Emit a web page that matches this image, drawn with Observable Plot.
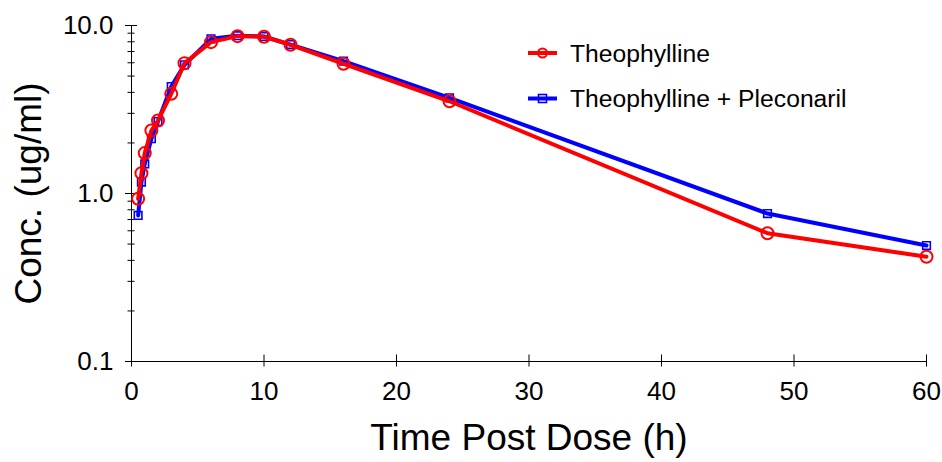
<!DOCTYPE html>
<html>
<head>
<meta charset="utf-8">
<script src="https://cdn.jsdelivr.net/npm/d3@7"></script>
<script src="https://cdn.jsdelivr.net/npm/@observablehq/plot@0.6"></script>
<style>
  html, body { margin: 0; padding: 0; background: #fff; }
  #chart { width: 942px; height: 462px; }
</style>
</head>
<body>
<div id="chart"></div>
<script>
// ---- data ----
const times = [0.5, 0.75, 1, 1.5, 2, 3, 4, 6, 8, 10, 12, 16, 24, 48, 60];
const theophylline = [0.93, 1.32, 1.74, 2.37, 2.72, 3.92, 5.97, 7.96, 8.64, 8.57, 7.68, 5.92, 3.54, 0.58, 0.42];
const theoPleconaril = [0.74, 1.17, 1.50, 2.12, 2.68, 4.33, 5.83, 8.33, 8.70, 8.60, 7.70, 6.13, 3.71, 0.76, 0.49];
const seriesNames = ["Theophylline", "Theophylline + Pleconaril"];
const seriesColors = ["#ff0000", "#0000ff"];
const xTicks = [0, 10, 20, 30, 40, 50, 60];
const yMajorTicks = [0.1, 1, 10];
const yMinorTicks = [0.2, 0.3, 0.4, 0.5, 0.6, 0.7, 0.8, 0.9, 2, 3, 4, 5, 6, 7, 8, 9];
const xTitle = "Time Post Dose (h)";
const yTitle = "Conc. (ug/ml)";

const red = times.map((t, i) => ({t, c: theophylline[i]}));
const blue = times.map((t, i) => ({t, c: theoPleconaril[i]}));

const font = "'Liberation Sans', Arial, Helvetica, sans-serif";

const chart = Plot.plot({
  width: 942,
  height: 462,
  marginLeft: 131,
  marginRight: 16,
  marginTop: 25,
  marginBottom: 101,
  style: {fontFamily: font, fontSize: "26px", color: "#000", background: "#fff", overflow: "visible"},
  x: {domain: [0, 60], label: null},
  y: {type: "log", domain: [0.1, 10], label: null},
  marks: [
    Plot.ruleX([0], {stroke: "#000", strokeWidth: 1}),
    Plot.ruleY([0.1], {stroke: "#000", strokeWidth: 1}),
    // x ticks (crossing) and labels
    Plot.axisX({ticks: xTicks, tickSize: 12, dy: -6.5, tickFormat: () => "", label: null}),
    Plot.axisX({ticks: xTicks, tickSize: 0, tickPadding: 20, fontSize: 26, tickFormat: d => String(d), label: null}),
    // y ticks
    Plot.axisY({ticks: yMajorTicks, tickSize: 12, dx: 6, tickFormat: () => "", label: null}),
    Plot.axisY({ticks: yMinorTicks, tickSize: 7, dx: 3.5, tickFormat: () => "", label: null}),
    Plot.axisY({ticks: yMajorTicks, tickSize: 0, tickPadding: 18, fontSize: 26, tickFormat: d => d.toFixed(1), label: null}),
    // axis titles
    Plot.text([xTitle], {frameAnchor: "bottom", lineAnchor: "middle", textAnchor: "middle", dy: 77, fontSize: 37, fill: "#000"}),
    Plot.text([yTitle], {frameAnchor: "left", lineAnchor: "middle", textAnchor: "middle", rotate: -90, dx: -102, fontSize: 37, fill: "#000"}),
    // series
    Plot.line(blue, {x: "t", y: "c", stroke: seriesColors[1], strokeWidth: 4}),
    Plot.dot(blue, {x: "t", y: "c", symbol: "square", r: 4.3, stroke: seriesColors[1], strokeWidth: 1.6, fill: "none"}),
    Plot.line(red, {x: "t", y: "c", stroke: seriesColors[0], strokeWidth: 4}),
    Plot.dot(red, {x: "t", y: "c", r: 6, stroke: seriesColors[0], strokeWidth: 2, fill: "none"})
  ]
});

document.getElementById("chart").appendChild(chart);

// legend inside plot area
const svg = d3.select(chart);
const lg = svg.append("g").attr("font-family", font).attr("text-anchor", "start");
seriesNames.forEach((name, i) => {
  const y = 53 + i * 45.5;
  const g = lg.append("g").attr("transform", `translate(528,${y})`);
  g.append("line").attr("x1", 0).attr("x2", 29).attr("y1", 0).attr("y2", 0)
    .attr("stroke", seriesColors[i]).attr("stroke-width", 4);
  if (i === 0) {
    g.append("circle").attr("cx", 14.5).attr("cy", 0).attr("r", 4.5)
      .attr("fill", "none").attr("stroke", seriesColors[i]).attr("stroke-width", 2);
  } else {
    g.append("rect").attr("x", 10.5).attr("y", -4).attr("width", 8).attr("height", 8)
      .attr("fill", "none").attr("stroke", seriesColors[i]).attr("stroke-width", 1.6);
  }
  g.append("text").attr("x", 42).attr("y", 0).attr("dy", "0.35em")
    .attr("text-anchor", "start")
    .attr("font-size", 24.7).attr("fill", "#000").text(name);
});
</script>
</body>
</html>
